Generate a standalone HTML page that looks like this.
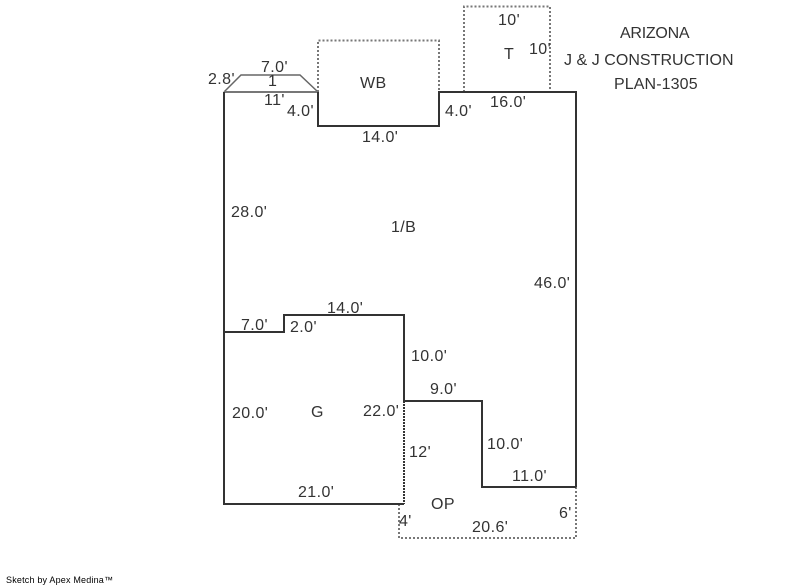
<!DOCTYPE html>
<html>
<head>
<meta charset="utf-8">
<style>
html,body{margin:0;padding:0;background:#fff;width:800px;height:587px;overflow:hidden}
svg{display:block}
text{font-family:"Liberation Sans",Arial,sans-serif;font-size:16px;fill:#333;letter-spacing:.4px}
</style>
</head>
<body>
<svg width="800" height="587" viewBox="0 0 800 587" xmlns="http://www.w3.org/2000/svg">
<rect width="800" height="587" fill="#fff"/>
<!-- dashed areas -->
<g fill="none" stroke="#777" stroke-width="2" stroke-dasharray="2 2">
<path d="M318 92V40.5H439V92"/>
<path d="M464 92V6.5H550V92"/>
<path d="M399 504V538H576V487"/>
</g>
<!-- roof -->
<g fill="none" stroke="#666" stroke-width="1.5">
<path d="M224 92L241 75H300L318 92"/>
</g>
<path d="M224 92H318" fill="none" stroke="#777" stroke-width="2"/>
<!-- walls -->
<g fill="none" stroke="#333" stroke-width="2">
<path d="M224 92V504H404"/>
<path d="M318 92V126H439V92H576V487"/>
<path d="M224 332H284V315H404V401H482V487H576"/>
</g>
<path d="M404 401V504" fill="none" stroke="#333" stroke-width="2" stroke-dasharray="2 1"/>
<text x="208" y="84">2.8'</text>
<text x="261" y="72">7.0'</text>
<text x="268" y="86">1</text>
<text x="264" y="105">11'</text>
<text x="287" y="116">4.0'</text>
<text x="360" y="88">WB</text>
<text x="362" y="142">14.0'</text>
<text x="445" y="116">4.0'</text>
<text x="490" y="107">16.0'</text>
<text x="498" y="25">10'</text>
<text x="504" y="59">T</text>
<text x="529" y="54">10'</text>
<text x="620" y="38" textLength="70">ARIZONA</text>
<text x="564" y="65" textLength="170">J &amp; J CONSTRUCTION</text>
<text x="614" y="89" textLength="84">PLAN-1305</text>
<text x="231" y="217">28.0'</text>
<text x="391" y="232">1/B</text>
<text x="534" y="288">46.0'</text>
<text x="327" y="313">14.0'</text>
<text x="241" y="330">7.0'</text>
<text x="290" y="332">2.0'</text>
<text x="411" y="361">10.0'</text>
<text x="430" y="394">9.0'</text>
<text x="363" y="416">22.0'</text>
<text x="232" y="418">20.0'</text>
<text x="311" y="417">G</text>
<text x="409" y="457">12'</text>
<text x="487" y="449">10.0'</text>
<text x="512" y="481">11.0'</text>
<text x="298" y="497">21.0'</text>
<text x="431" y="509">OP</text>
<text x="399" y="526">4'</text>
<text x="472" y="532">20.6'</text>
<text x="559" y="518">6'</text>
<text x="6" y="583" textLength="107" style="font-size:9px;fill:#000;letter-spacing:0">Sketch by Apex Medina™</text>
</svg>
</body>
</html>
